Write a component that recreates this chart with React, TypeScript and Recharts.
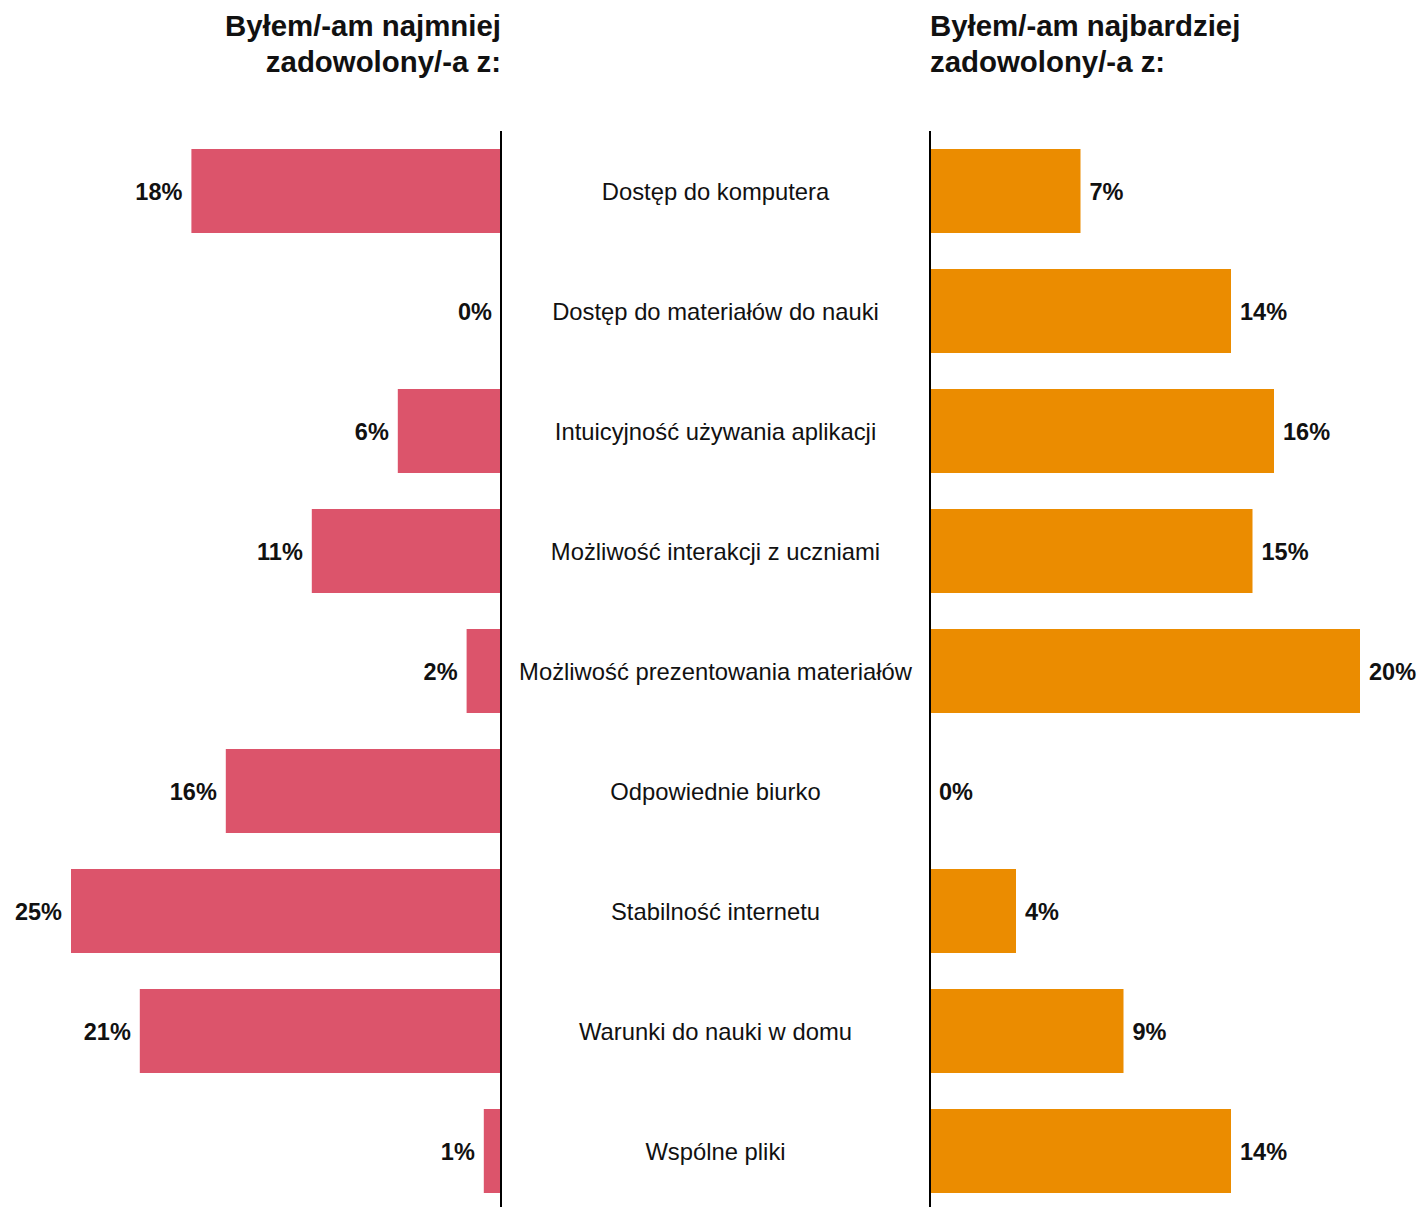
import React from "react";
import { BarChart, Bar, XAxis, YAxis, LabelList } from "recharts";

const categories = [
  "Dostęp do komputera",
  "Dostęp do materiałów do nauki",
  "Intuicyjność używania aplikacji",
  "Możliwość interakcji z uczniami",
  "Możliwość prezentowania materiałów",
  "Odpowiednie biurko",
  "Stabilność internetu",
  "Warunki do nauki w domu",
  "Wspólne pliki",
];
const leastSatisfied = [18, 0, 6, 11, 2, 16, 25, 21, 1];
const mostSatisfied = [7, 14, 16, 15, 20, 0, 4, 9, 14];
const leftTitle = ["Byłem/-am najmniej", "zadowolony/-a z:"];
const rightTitle = ["Byłem/-am najbardziej", "zadowolony/-a z:"];

const leftData = categories.map((c, i) => ({ name: c, value: leastSatisfied[i] }));
const rightData = categories.map((c, i) => ({ name: c, value: mostSatisfied[i] }));

const FONT = "'Liberation Sans', Arial, sans-serif";
const RED = "#DC546B";
const ORANGE = "#EB8C00";
const CHART_H = 1211;
const TOP = 131;
const CENTER_W = 429;
const VAL_FS = 23.5;
const CAT_FS = 23.8;

const LeftLabel = (props: any) => {
  const { x, y, width, height, value } = props;
  const left = Math.min(x, x + width);
  return (
    <text x={left - 9} y={y + height / 2 + 1} dy="0.35em" textAnchor="end" fontFamily={FONT} fontWeight="bold" fontSize={VAL_FS} fill="#111">
      {value}%
    </text>
  );
};

const RightLabel = (props: any) => {
  const { x, y, width, height, value } = props;
  const right = Math.max(x, x + width);
  return (
    <text x={right + 9} y={y + height / 2 + 1} dy="0.35em" textAnchor="start" fontFamily={FONT} fontWeight="bold" fontSize={VAL_FS} fill="#111">
      {value}%
    </text>
  );
};

const CenterTick = (props: any) => {
  const { y, payload } = props;
  return (
    <text x={CENTER_W / 2} y={y + 1} dy="0.35em" textAnchor="middle" fontFamily={FONT} fontSize={CAT_FS} fill="#111">
      {payload.value}
    </text>
  );
};

export default function App() {
  return (
    <div style={{ position: "absolute", left: 0, top: 0, width: 1422, height: 1207, overflow: "hidden", background: "#fff" }}>
      <div style={{ position: "absolute", right: 1422 - 501, top: 8, textAlign: "right", fontFamily: FONT, fontWeight: "bold", fontSize: 29.4, lineHeight: "36px", color: "#111", whiteSpace: "nowrap" }}>
        {leftTitle.map((t) => (<div key={t}>{t}</div>))}
      </div>
      <div style={{ position: "absolute", left: 930, top: 8, textAlign: "left", fontFamily: FONT, fontWeight: "bold", fontSize: 29.4, lineHeight: "36px", color: "#111", whiteSpace: "nowrap" }}>
        {rightTitle.map((t) => (<div key={t}>{t}</div>))}
      </div>
      <div style={{ position: "absolute", left: 0, top: 0 }}>
        <BarChart width={502} height={CHART_H} layout="vertical" data={leftData} margin={{ top: TOP, right: 0, left: 71, bottom: 0 }} barCategoryGap="15%">
          <XAxis type="number" domain={[0, 25]} reversed hide />
          <YAxis type="category" dataKey="name" orientation="right" width={1} tick={false} tickLine={false} axisLine={{ stroke: "#000", strokeWidth: 2 }} />
          <Bar dataKey="value" fill={RED} isAnimationActive={false} minPointSize={0.01}>
            <LabelList dataKey="value" content={LeftLabel} />
          </Bar>
        </BarChart>
      </div>
      <div style={{ position: "absolute", left: 501, top: 0 }}>
        <BarChart width={921} height={CHART_H} layout="vertical" data={rightData} margin={{ top: TOP, right: 62, left: 0, bottom: 0 }} barCategoryGap="15%">
          <XAxis type="number" domain={[0, 20]} hide />
          <YAxis type="category" dataKey="name" orientation="left" width={CENTER_W} tick={<CenterTick />} tickLine={false} axisLine={{ stroke: "#000", strokeWidth: 2 }} interval={0} />
          <Bar dataKey="value" fill={ORANGE} isAnimationActive={false} minPointSize={0.01}>
            <LabelList dataKey="value" content={RightLabel} />
          </Bar>
        </BarChart>
      </div>
    </div>
  );
}
